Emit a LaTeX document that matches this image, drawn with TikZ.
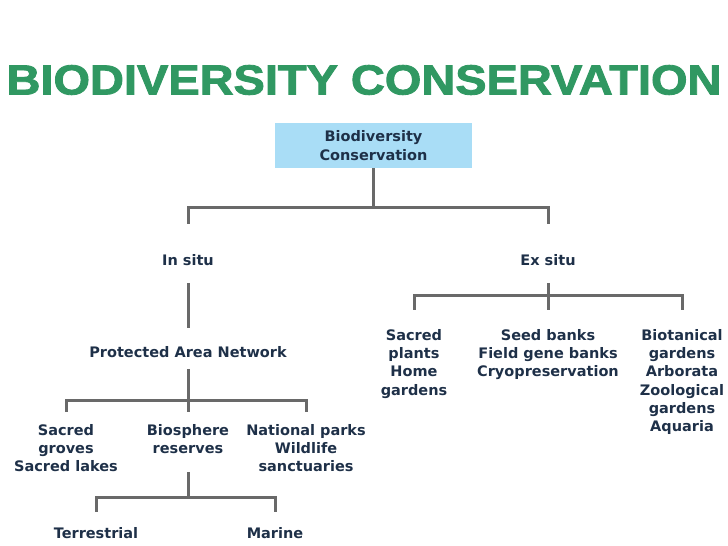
\documentclass[tikz,border=0pt]{standalone}
\usepackage{fontspec}
\setmainfont{DejaVu Sans}
\newfontfamily\titlefont{Liberation Sans Bold}[FakeBold=2]
\definecolor{titlegreen}{RGB}{48,152,98}
\definecolor{boxblue}{RGB}{169,221,246}
\definecolor{textblue}{RGB}{30,48,72}
\definecolor{linegray}{RGB}{105,105,105}
\begin{document}
\begin{tikzpicture}[x=1pt, y=-1pt,
    label/.style={font=\bfseries\fontsize{14.5}{18.3}\selectfont, text=textblue, align=center, inner sep=0pt},
    link/.style={draw=linegray, line width=3pt}]
        \useasboundingbox (0,0) rectangle (728,546);

        % Title
        \node[font=\titlefont\fontsize{42}{42}\selectfont, text=titlegreen, inner sep=0pt] (title) at (364,80) {\scalebox{1.118}[1]{BIODIVERSITY CONSERVATION}};

        % Root box
        \node[label, fill=boxblue, minimum width=197pt, minimum height=45pt, font=\bfseries\fontsize{14.5}{19}\selectfont] (root) at (373.5,145.5) {Biodiversity\\Conservation};
        \coordinate (j1) at (373.5,207);

        % In situ / Ex situ
        \node[label] (insitu) at (188,260) {In situ};
        \node[label] (exsitu) at (548,260) {Ex situ};
        \draw[link] (root.south) -- (j1);
        \draw[link, shorten >=30pt] (j1) -| (insitu.north);
        \draw[link, shorten >=30pt] (j1) -| (exsitu.north);

        % Ex situ branch
        \node[label, anchor=north] (plants) at (414,329) {Sacred\\plants\\Home\\gardens};
        \node[label, anchor=north] (banks) at (548,329) {Seed banks\\Field gene banks\\Cryopreservation};
        \node[label, anchor=north] (gardens) at (682,329) {Biotanical\\gardens\\Arborata\\Zoological\\gardens\\Aquaria};
        \coordinate (j3) at (548,295);
        \draw[link, shorten <=17pt, shorten >=19pt] (exsitu.south) -- (banks.north);
        \draw[link, shorten >=19pt] (j3) -| (plants.north);
        \draw[link, shorten >=19pt] (j3) -| (gardens.north);

        % In situ branch
        \node[label] (network) at (188,352) {Protected Area Network};
        \draw[link, shorten <=17pt, shorten >=18pt] (insitu.south) -- (network.north);
        \coordinate (j2) at (188,400);
        \node[label, anchor=north] (groves) at (66,424) {Sacred\\groves\\Sacred lakes};
        \node[label, anchor=north] (reserves) at (188,424) {Biosphere\\reserves};
        \node[label, anchor=north] (parks) at (306,424) {National parks\\Wildlife\\sanctuaries};
        \draw[link, shorten <=11pt] (network.south) -- (j2);
        \draw[link, shorten >=12pt] (j2) -| (groves.north);
        \draw[link, shorten >=12pt] (j2) -- (reserves.north);
        \draw[link, shorten >=12pt] (j2) -| (parks.north);

        % Biosphere reserves
        \coordinate (j4) at (188,497);
        \node[label] (land) at (96,533) {Terrestrial};
        \node[label] (sea) at (275,533) {Marine};
        \draw[link, shorten <=18pt] (reserves.south) -- (j4);
        \draw[link, shorten >=15pt] (j4) -| (land.north);
        \draw[link, shorten >=15pt] (j4) -| (sea.north);
\end{tikzpicture}
\end{document}
